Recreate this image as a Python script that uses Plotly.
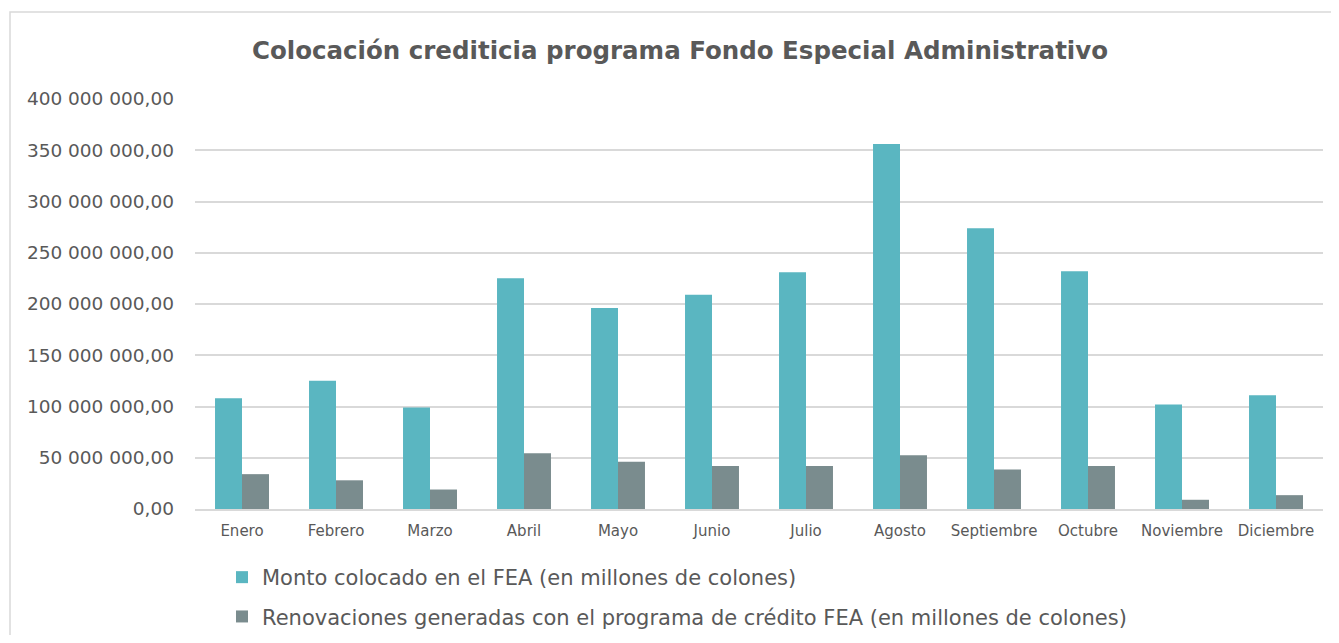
import plotly.graph_objects as go

months = ["Enero", "Febrero", "Marzo", "Abril", "Mayo", "Junio", "Julio",
          "Agosto", "Septiembre", "Octubre", "Noviembre", "Diciembre"]
monto = [108e6, 125e6, 99e6, 225e6, 196e6, 209e6, 231e6, 356e6, 274e6, 232e6, 102e6, 111e6]
renov = [34e6, 28e6, 19e6, 54.5e6, 46e6, 42e6, 42e6, 52.5e6, 38.5e6, 42e6, 9e6, 13.5e6]
name_monto = "Monto colocado en el FEA (en millones de colones)"
name_renov = "Renovaciones generadas con el programa de crédito FEA (en millones de colones)"
title_text = "Colocación crediticia programa Fondo Especial Administrativo"
ytick_vals = [0, 50e6, 100e6, 150e6, 200e6, 250e6, 300e6, 350e6, 400e6]

FONT = "Century Gothic, DejaVu Sans, sans-serif"
TXT = "#595959"

# page body has an 8px margin; figure coordinates = screen - 8
OFF = 8
W, H = 1339 - 2 * OFF, 643 - 2 * OFF
L, R, T, B = 195 - OFF, 1323 - OFF, 99 - OFF, 509 - OFF

fig = go.Figure()
fig.add_trace(go.Bar(x=months, y=monto, name=name_monto, marker_color="#5AB6C1",
                     marker_line_width=0, legendgroup="a"))
fig.add_trace(go.Bar(x=months, y=renov, name=name_renov, marker_color="#7A8C8E",
                     marker_line_width=0, legendgroup="b"))

pw, ph = R - L, B - T
def px(x):
    return (x - OFF - L) / pw
def py(y):
    return (B - (y - OFF)) / ph

fig.update_layout(
    width=W, height=H,
    margin=dict(l=L, r=W - R, t=T, b=H - B, pad=0, autoexpand=False),
    paper_bgcolor="white", plot_bgcolor="white",
    font=dict(family=FONT, color=TXT),
    separators=", ",
    barmode="group", bargap=0.426, bargroupgap=0,
    title=dict(text=title_text, font=dict(family=FONT, size=24.5, color=TXT, weight="bold"),
               x=(680 - OFF) / W, xref="container", xanchor="center",
               y=1 - (50 - OFF) / H, yref="container", yanchor="middle"),
    xaxis=dict(showgrid=False, showline=True, linecolor="#D9D9D9", linewidth=1.5,
               ticks="", tickfont=dict(size=15, color=TXT), ticklabelstandoff=7),
    yaxis=dict(range=[0, 400e6], tickvals=ytick_vals, tickformat=",.2f",
               showgrid=True, gridcolor="#D9D9D9", gridwidth=1.5,
               zeroline=False, showline=False, ticks="",
               tickfont=dict(size=18.5, color=TXT), ticklabelstandoff=20),
    legend=dict(orientation="v", x=px(222), xanchor="left", y=py(557), yanchor="top",
                font=dict(size=21, color=TXT), traceorder="grouped", tracegroupgap=9,
                bgcolor="rgba(0,0,0,0)"),
    showlegend=True,
    shapes=[dict(type="rect", xref="paper", yref="paper",
                 x0=px(10), x1=px(1360), y0=py(680), y1=py(12),
                 line=dict(color="#D9D9D9", width=1.5), layer="below")],
)

fig.write_html("out.html")
